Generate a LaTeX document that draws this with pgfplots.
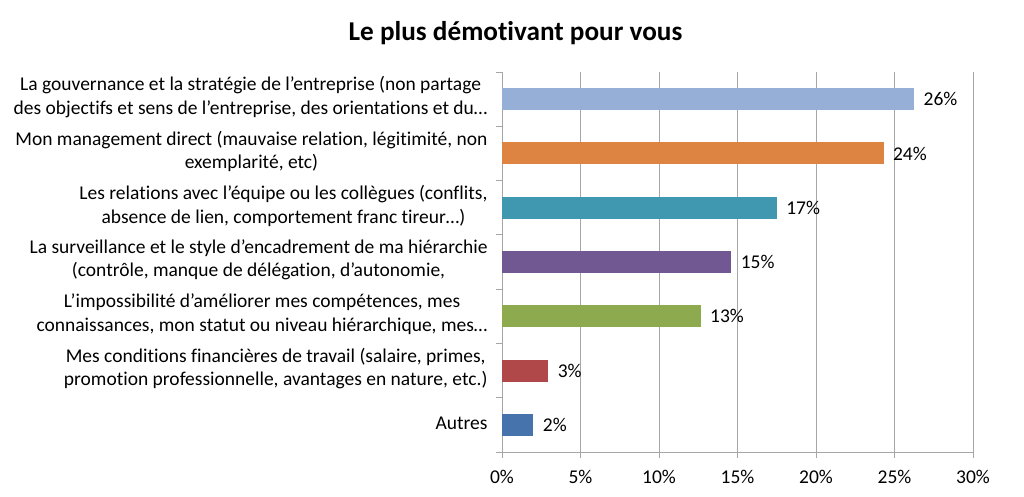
\documentclass[border=0pt]{standalone}
\usepackage{fontspec}
\setmainfont{Carlito}[Ligatures=NoCommon]
\usepackage{pgfplots}
\pgfplotsset{compat=1.18}
\usetikzlibrary{calc}
\definecolor{c1}{HTML}{95AFD7}
\definecolor{c2}{HTML}{DD8443}
\definecolor{c3}{HTML}{3F97B0}
\definecolor{c4}{HTML}{725892}
\definecolor{c5}{HTML}{8DAA4E}
\definecolor{c6}{HTML}{B04849}
\definecolor{c7}{HTML}{4673AB}
\definecolor{gridc}{HTML}{A6A6A6}
\begin{document}
\begin{tikzpicture}
\begin{axis}[
  scale only axis,
  width=471pt, height=380pt,
  xmin=0, xmax=30, ymin=0, ymax=7,
  y dir=reverse,
  xbar, bar width=22pt,
  axis lines*=left,
  axis line style={gridc, line width=0.8pt},
  xtick={0,5,...,30},
  xticklabels={0\%,5\%,10\%,15\%,20\%,25\%,30\%},
  xmajorgrids, major grid style={gridc, line width=0.8pt},
  tick align=outside,
  major tick length=6pt,
  minor tick length=6pt,
  xtick style={gridc, line width=0.8pt},
  ytick={0.5,1.5,...,6.5},
  minor ytick={0,1,...,7},
  major y tick style={draw=none},
  minor y tick style={draw=gridc, line width=0.8pt},
  yticklabels={
    {La gouvernance et la stratégie de l’entreprise (non partage\\des objectifs et sens de l’entreprise, des orientations et du…},
    {Mon management direct (mauvaise relation, légitimité, non\\exemplarité, etc)},
    {Les relations avec l’équipe ou les collègues (conflits,\\absence de lien, comportement franc tireur…)},
    {La surveillance et le style d’encadrement de ma hiérarchie\\(contrôle, manque de délégation, d’autonomie,},
    {L'impossibilité d’améliorer mes compétences, mes\\connaissances, mon statut ou niveau hiérarchique, mes…},
    {Mes conditions financières de travail (salaire, primes,\\promotion professionnelle, avantages en nature, etc.)},
    {Autres}},
  yticklabel style={align=center, font=\fontsize{19.5}{23.5}\selectfont, xshift=-5pt, yshift=2pt},
  xticklabel style={font=\fontsize{19.5}{23.5}\selectfont, yshift=-9pt},
  nodes near coords,
  point meta=explicit symbolic,
  nodes near coords style={anchor=west, font=\fontsize{19.5}{23.5}\selectfont, xshift=6pt},
  title={\bfseries Le plus démotivant pour vous},
  title style={font=\fontsize{27.2}{32}\selectfont, at={(rel axis cs:0.5,1)}, anchor=base, xshift=-222pt, yshift=26pt},
]
\addplot[bar shift=0pt, fill=c1, draw=none] coordinates {(26.25,0.5) [26\%]};
\addplot[bar shift=0pt, fill=c2, draw=none] coordinates {(24.3,1.5) [24\%]};
\addplot[bar shift=0pt, fill=c3, draw=none] coordinates {(17.5,2.5) [17\%]};
\addplot[bar shift=0pt, fill=c4, draw=none] coordinates {(14.6,3.5) [15\%]};
\addplot[bar shift=0pt, fill=c5, draw=none] coordinates {(12.65,4.5) [13\%]};
\addplot[bar shift=0pt, fill=c6, draw=none] coordinates {(2.95,5.5) [3\%]};
\addplot[bar shift=0pt, fill=c7, draw=none] coordinates {(2.0,6.5) [2\%]};
\end{axis}
\path[use as bounding box] ($(current axis.south west)+(-502pt,-44pt)$) rectangle ++(1024pt,496pt);
\end{tikzpicture}
\end{document}
